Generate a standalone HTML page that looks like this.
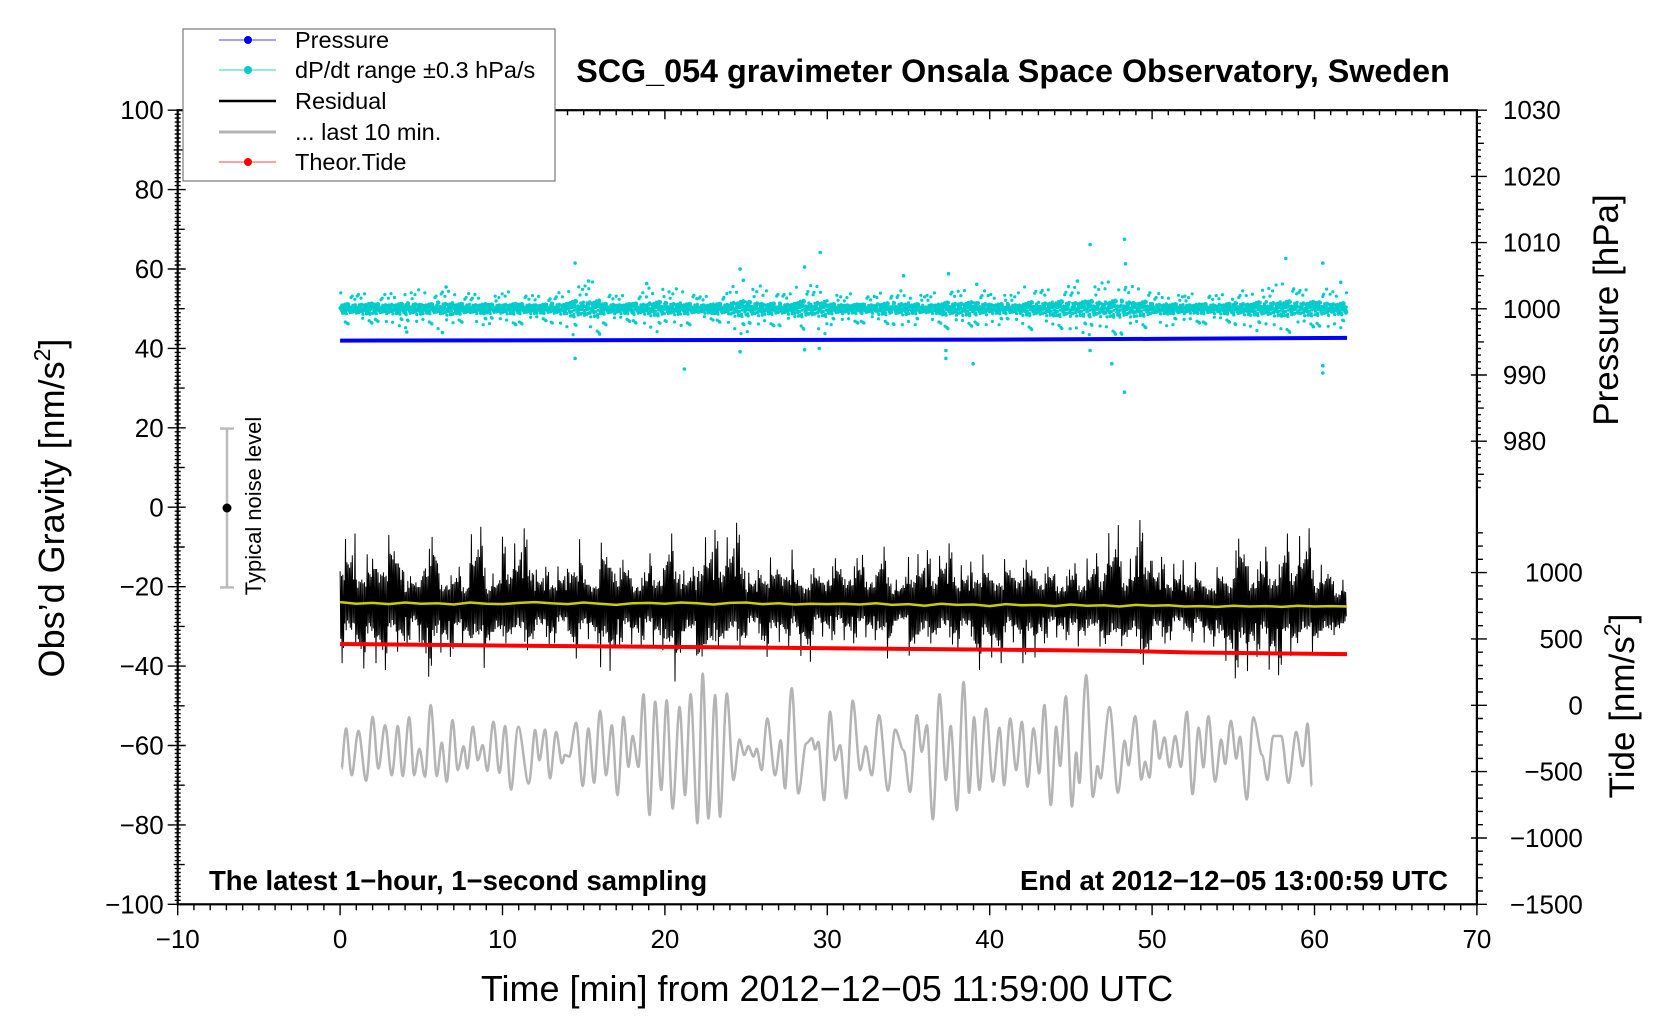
<!DOCTYPE html>
<html><head><meta charset="utf-8"><style>
html,body{margin:0;padding:0;background:#fff;}
svg{display:block;font-family:"Liberation Sans",Arial,sans-serif;}
</style></head><body>
<svg id="chart" width="1676" height="1020" viewBox="0 0 1676 1020" xmlns="http://www.w3.org/2000/svg">
<rect x="0" y="0" width="1676" height="1020" fill="#fff"/>
<g id="plot"></g>
<g id="axes"></g>
<text x="1013" y="82" text-anchor="middle" font-size="32.3" font-weight="bold">SCG_054 gravimeter Onsala Space Observatory, Sweden</text>
<text x="827" y="1001" text-anchor="middle" font-size="36">Time [min] from 2012−12−05 11:59:00 UTC</text>
<text transform="translate(64,508) rotate(-90)" text-anchor="middle" font-size="36">Obs’d Gravity [nm/s<tspan font-size="23" dy="-14">2</tspan><tspan dy="14">]</tspan></text>
<text transform="translate(1618,310) rotate(-90)" text-anchor="middle" font-size="35">Pressure [hPa]</text>
<text transform="translate(1634,706) rotate(-90)" text-anchor="middle" font-size="35">Tide [nm/s<tspan font-size="23" dy="-14">2</tspan><tspan dy="14">]</tspan></text>
<text x="209" y="890" font-size="27.5" font-weight="bold">The latest 1−hour, 1−second sampling</text>
<text x="1448" y="890" text-anchor="end" font-size="27.5" font-weight="bold">End at 2012−12−05 13:00:59 UTC</text>
<g>
<line x1="227" y1="428.6" x2="227" y2="587.4" stroke="#bbb" stroke-width="2.5"/>
<line x1="220" y1="428.6" x2="234" y2="428.6" stroke="#bbb" stroke-width="2.5"/>
<line x1="220" y1="587.4" x2="234" y2="587.4" stroke="#bbb" stroke-width="2.5"/>
<circle cx="227" cy="508" r="4.5" fill="#000"/>
<text transform="translate(261,506) rotate(-90)" text-anchor="middle" font-size="22">Typical noise level</text>
</g>
<g id="legend">
<rect x="183" y="29" width="372" height="152" fill="#fff" stroke="#777" stroke-width="1.2"/>
<g><line x1="219" y1="40" x2="276" y2="40" stroke="#6a6aff" stroke-width="1.2"/><circle cx="248" cy="40" r="4" fill="#0000ff"/><text x="295" y="48" font-size="23.5">Pressure</text></g>
<g><line x1="219" y1="70" x2="276" y2="70" stroke="#5ed8d8" stroke-width="1.2"/><circle cx="248" cy="70" r="4" fill="#00cccc"/><text x="295" y="78" font-size="23.5">dP/dt range ±0.3 hPa/s</text></g>
<g><line x1="219" y1="101" x2="276" y2="101" stroke="#000" stroke-width="2.5"/><text x="295" y="109" font-size="23.5">Residual</text></g>
<g><line x1="219" y1="132" x2="276" y2="132" stroke="#b4b4b4" stroke-width="3"/><text x="295" y="140" font-size="23.5">... last 10 min.</text></g>
<g><line x1="219" y1="162" x2="276" y2="162" stroke="#ff6a6a" stroke-width="1.2"/><circle cx="248" cy="162" r="4" fill="#ff0000"/><text x="295" y="170" font-size="23.5">Theor.Tide</text></g>
</g>
</svg>
<script>
// ---------------- data ----------------
const xTicks = [-10,0,10,20,30,40,50,60,70];
const gTicks = [-100,-80,-60,-40,-20,0,20,40,60,80,100];
const pTicks = [980,990,1000,1010,1020,1030];
const tideTicks = [-1500,-1000,-500,0,500,1000];

// gray "last 10 min" trace: extremes (time min, gravity nm/s2)
const grayTimes = [0.10,0.37,0.72,1.13,1.6,2.0,2.36,2.77,3.18,3.55,3.86,4.25,4.56,4.88,5.23,5.58,5.95,6.26,6.57,6.92,7.25,7.6,7.84,8.17,8.48,8.78,9.07,9.44,9.81,10.16,10.53,10.98,11.6,12.0,12.27,12.62,12.93,13.3,13.65,13.85,14.12,14.53,14.94,15.29,15.64,16.01,16.38,16.73,17.08,17.45,17.75,18.02,18.37,18.68,19.05,19.4,19.77,20.11,20.48,20.9,21.24,21.59,22.0,22.33,22.68,23.09,23.4,23.81,24.22,24.59,24.88,25.14,25.45,25.66,25.96,26.31,26.78,27.13,27.4,27.81,28.22,28.69,29.04,29.25,29.45,29.8,30.17,
30.48,30.79,31.16,31.57,32.02,32.37,32.74,33.19,33.73,34.18,34.69,35.1,35.51,35.82,36.13,36.5,36.91,37.3,37.6,37.98,38.39,38.73,39.04,39.37,39.78,40.19,40.6,40.89,41.26,41.63,41.98,42.33,42.7,43.05,43.37,43.76,44.09,44.34,44.69,45.06,45.32,45.53,45.94,46.35,46.64,46.84,47.38,47.89,48.3,48.55,48.96,49.33,49.57,49.84,50.15,50.45,50.76,51.07,51.42,51.77,52.14,52.49,52.86,53.16,53.47,53.88,54.25,54.5,54.85,55.18,55.42,55.83,56.24,56.76,57.1,57.47,57.95,58.4,58.87,59.26,59.57,59.83];
const grayValues = [-65.8,-55.7,-67.5,-56.3,-68.9,-52.8,-65.8,-54.9,-67.5,-55.1,-67.7,-52.9,-67.5,-60.8,-67.9,-49.8,-67.7,-59.3,-69.1,-53.6,-66.2,-60.2,-65.8,-55.3,-63.7,-59.9,-66.4,-54.0,-66.9,-55.1,-71.1,-55.3,-69.6,-56.1,-63.7,-56.0,-68.3,-56.6,-64.5,-62.4,-62.8,-54.3,-70.2,-55.7,-69.4,-51.3,-67.5,-54.9,-72.5,-52.8,-65.4,-57.6,-65.4,-47.1,-77.5,-49.0,-71.2,-48.6,-75.9,-50.3,-72.5,-47.1,-79.6,-41.9,-78.4,-47.3,-78.0,-46.9,-68.7,-58.5,-62.4,-60.2,-62.8,-60.8,-66.2,-53.2,-67.5,-58.7,-70.8,-45.6,-72.1,-59.5,-58.2,-61.0,-59.1,-73.8,-51.5,
-63.7,-59.9,-73.3,-48.7,-66.2,-60.2,-67.5,-52.4,-71.4,-56.0,-61.2,-71.7,-52.4,-61.6,-54.9,-78.6,-47.1,-68.7,-55.1,-76.3,-44.0,-71.9,-52.9,-71.2,-50.7,-69.1,-55.5,-70.0,-53.2,-66.2,-54.0,-70.4,-55.7,-67.0,-49.8,-75.0,-55.3,-65.2,-47.6,-75.4,-61.8,-69.4,-42.3,-72.9,-65.2,-68.3,-50.3,-71.9,-58.8,-65.0,-52.6,-68.6,-64.1,-68.1,-53.8,-63.3,-58.0,-65.5,-57.6,-65.4,-51.5,-72.3,-55.5,-65.5,-52.6,-69.1,-58.5,-64.7,-53.8,-63.3,-57.8,-73.6,-52.9,-62.4,-68.7,-57.6,-57.6,-69.4,-56.6,-65.2,-54.5,-70.2];

// residual per-minute envelope (gravity nm/s2), minutes 0..61
const residualHigh = [-6.6,-10.8,-7.0,-3.9,-16.2,-4.5,-14.1,-15.0,-4.9,-15.8,-7.4,-5.3,-15.0,-14.1,-6.6,-15.0,-6.2,-11.2,-15.0,-11.6,-6.6,-15.0,-5.7,-5.7,-3.9,-15.8,-11.6,-9.5,-15.0,-13.7,-10.8,
-10.8,-12.0,-9.9,-17.5,-10.4,-10.8,-9.1,-13.7,-10.8,-12.0,-11.2,-11.2,-13.3,-14.1,-14.1,-11.6,-4.5,-11.6,-3.2,-12.5,-13.3,-12.9,-15.0,-13.3,-4.9,-11.6,-9.9,-6.6,-5.3,-13.3,-17.5];
const residualLow = [-39.3,-40.6,-41.0,-37.7,-35.1,-42.7,-37.7,-36.0,-41.9,-38.5,-36.0,-38.1,-36.4,-34.3,-38.1,-34.3,-43.1,-35.6,-35.1,-36.0,-45.6,-38.5,-44.8,-37.7,-37.7,-35.1,-37.7,-35.1,-38.9,-33.5,-33.5,
-34.3,-33.5,-39.3,-32.6,-39.7,-36.0,-36.4,-36.0,-41.0,-39.3,-35.1,-39.3,-34.3,-33.5,-36.0,-36.0,-39.7,-36.8,-42.3,-36.0,-33.5,-33.9,-35.1,-40.2,-43.1,-37.7,-42.3,-38.5,-38.1,-37.2,-33.5];
// smoothed residual (yellow) per minute 0..62
const residualSmooth = [-23.9,-24.3,-24.1,-24.4,-24.0,-24.3,-24.2,-24.5,-24.0,-24.3,-24.4,-24.1,-23.9,-24.2,-24.4,-24.0,-24.3,-24.6,-24.2,-24.1,-24.3,-24.0,-24.2,-24.5,-24.1,-24.0,-24.4,-24.2,-24.5,-24.3,-24.4,
-24.3,-24.5,-24.2,-24.6,-24.4,-24.8,-24.3,-24.6,-24.5,-24.9,-24.4,-24.7,-24.6,-24.9,-24.5,-24.8,-24.7,-25.0,-24.6,-24.8,-24.7,-25.0,-24.9,-25.1,-24.8,-25.0,-24.9,-25.1,-24.8,-25.0,-24.9,-25.0];

// theoretical tide (nm/s2)
const tideTimes = [0,8,16,24,32,40,48,52.5,57,62];
const tideValues = [462,452,444,436,428,420,410,398,392,386];

// pressure (hPa)
const pressTimes = [0,15,30,40,50,57,62];
const pressValues = [995.2,995.25,995.3,995.35,995.45,995.55,995.6];

// dP/dt scatter: per-minute center (hPa) and spread (hPa), minutes 0..61
const dpCenter = 1000.0;
const dpSpread = [1.6,1.8,1.6,1.7,1.9,1.6,2.1,1.7,1.6,1.5,1.7,1.6,1.5,1.8,2.6,2.7,1.7,1.6,1.8,2.3,2.0,1.7,1.5,1.7,2.5,2.3,1.8,1.8,2.6,2.5,1.6,
1.5,1.5,1.9,2.0,1.6,1.6,2.1,2.2,2.0,1.6,1.6,2.2,2.3,2.5,2.4,2.6,2.7,2.7,2.4,1.7,1.6,1.5,1.6,1.7,2.0,2.2,2.4,2.5,2.3,2.2,1.9];
const dpOutTimes = [14.47,14.47,15.3,21.2,24.63,24.63,28.6,29.56,28.6,29.5,6.53,18.88,4.1,6.3,24.83,46.18,48.3,48.36,48.3,58.23,60.51,60.51,60.51,34.69,37.46,37.3,37.3,38.98,46.18,47.52,61.62,39.2,45.4];
const dpOutValues = [1006.9,992.5,1004.2,990.9,1006.0,993.5,1006.3,1008.5,993.8,994.0,1003.3,1003.8,996.5,996.4,1004.3,1009.7,1010.5,1006.8,987.4,1007.6,1006.9,991.4,990.3,1005.0,1005.3,993.7,992.5,991.7,993.7,991.7,1004.0,1003.7,1004.2];

// ---------------- scales ----------------
const X0 = 177.7, X1 = 1476.9, Y0 = 110.2, Y1 = 904.3;
function xs(t){ return X0 + (t + 10) * (X1 - X0) / 80; }
function gy(g){ return Y0 + (100 - g) * (Y1 - Y0) / 200; }
function py(p){ return Y0 + (1030 - p) * 6.62; }
function ty(v){ return 572.6 + (1000 - v) * (Y1 - 572.6) / 2500; }

const NS = 'http://www.w3.org/2000/svg';
function mk(tag, attrs, parent){
  const e = document.createElementNS(NS, tag);
  for (const k in attrs) e.setAttribute(k, attrs[k]);
  parent.appendChild(e);
  return e;
}
const plot = document.getElementById('plot');
const axes = document.getElementById('axes');

// constant visual jitter patterns (styling only)
const jit = [0.45,-0.5,0.6,-0.35,0.3,-0.6,0.5,-0.3,1.0,-0.55,0.38,-0.45,0.55,-0.7,0.35,-1.0,0.48,-0.4,0.75,-0.5,0.4,-0.3,0.65,-0.48,0.42,-0.75,0.55,-0.38,0.85,-0.58,0.32,-0.42,0.5,-0.85,0.45,-0.35,0.6,-0.52,0.36,-0.68,0.92,-0.4,0.5,-0.62,0.34,-0.46,0.7,-0.9,0.44,-0.33,0.58];
const djit = [0.1,-0.3,0.45,-0.6,0.2,0.7,-0.15,-0.45,0.35,0.9,-0.8,0.05,0.55,-0.25,-1.0,0.3,0.65,-0.55,0.15,-0.05,0.4,-0.7,1.0,-0.35,0.25,0.5,-0.9,0.0,-0.2,0.8,-0.4,0.6,-0.1,0.3,-0.65,0.12,-0.5,0.75,-0.3,0.2,-0.08,0.22,-0.38,0.48,-0.18,0.08,0.33,-0.72,0.58,-0.02,0.85,-0.48,0.18,-0.28,0.02,0.38,-0.62,0.68,-0.12,-0.95,0.26,-0.42,0.52,0.04,-0.33];

// dP/dt dots
const dpG = mk('g', {fill:'#00cccc'}, plot);


for (let m = 0; m < dpSpread.length; m++){
  for (let k = 0; k < 60; k++){
    const t = m + (k + ((k * 13 + m * 5) % 7) / 7) / 60;
    if (t > 62) break;
    const f = djit[(k * 11 + m * 17) % djit.length];
    const amp = Math.abs(f) > 0.75 ? dpSpread[m] * (1 + ((k + m) % 3) * 0.25) : dpSpread[m] * 0.65;
    const c = mk('circle', {cx: xs(t).toFixed(1), cy: py(dpCenter + f * amp).toFixed(1), r: 1.6}, dpG);
    
    
  }
}
for (let i = 0; i < dpOutTimes.length; i++){
  const c = mk('circle', {cx: xs(dpOutTimes[i]).toFixed(1), cy: py(dpOutValues[i]).toFixed(1), r: 1.8}, dpG);
  
  
}

// pressure line
let d = pressTimes.map((t,i)=>(i?'L':'M')+xs(t).toFixed(1)+','+py(pressValues[i]).toFixed(1)).join('');
const pl = mk('path', {d:d, stroke:'#0000ff', 'stroke-width':4, fill:'none'}, plot);



// residual
let rd = '';
for (let m = 0; m < residualHigh.length; m++){
  const c = residualSmooth[m];
  for (let k = 0; k < 24; k++){
    const t = m + k / 24;
    if (t > 62.05) break;
    const idx = (k * 5 + m * 11) % jit.length;
    let f = jit[idx];
    if (k % 2 === 0) f = Math.abs(f); else f = -Math.abs(f);
    const v = f > 0 ? c + f * (residualHigh[m] - c) : c - f * (residualLow[m] - c);
    rd += (rd ? 'L' : 'M') + xs(t).toFixed(1) + ',' + gy(v).toFixed(1);
  }
}
const rl = mk('path', {d:rd, stroke:'#000', 'stroke-width':1.0, fill:'none'}, plot);



// smoothed residual
d = residualSmooth.map((v,i)=>(i?'L':'M')+xs(Math.min(i,62)).toFixed(1)+','+gy(v).toFixed(1)).join('');
const yl = mk('path', {d:d, stroke:'#cccc00', 'stroke-width':2.5, fill:'none'}, plot);



// tide
d = tideTimes.map((t,i)=>(i?'L':'M')+xs(t).toFixed(1)+','+ty(tideValues[i]).toFixed(1)).join('');
const tl = mk('path', {d:d, stroke:'#ff0000', 'stroke-width':4, fill:'none'}, plot);



// gray last 10 min (smooth curve through extremes)
const gp = grayTimes.map((t,i)=>[xs(t), gy(grayValues[i])]);
d = 'M' + gp[0][0].toFixed(1) + ',' + gp[0][1].toFixed(1);
for (let i = 0; i < gp.length - 1; i++){
  const p0 = gp[Math.max(0,i-1)], p1 = gp[i], p2 = gp[i+1], p3 = gp[Math.min(gp.length-1,i+2)];
  const c1x = p1[0] + (p2[0]-p0[0])/6, c1y = p1[1];
  const c2x = p2[0] - (p3[0]-p1[0])/6, c2y = p2[1];
  d += 'C' + c1x.toFixed(1) + ',' + c1y.toFixed(1) + ' ' + c2x.toFixed(1) + ',' + c2y.toFixed(1) + ' ' + p2[0].toFixed(1) + ',' + p2[1].toFixed(1);
}
const gl = mk('path', {d:d, stroke:'#b4b4b4', 'stroke-width':2.5, fill:'none', 'stroke-linejoin':'round'}, plot);



// ---------------- axes ----------------
const frame = mk('rect', {x:X0, y:Y0, width:X1-X0, height:Y1-Y0, fill:'none', stroke:'#000', 'stroke-width':2.2}, axes);


let tk = '';
for (let t = -10; t <= 70; t++){
  const x = xs(t).toFixed(1);
  const major = t % 10 === 0;
  tk += `M${x},${Y1}L${x},${Y1 + (major ? 11 : 6)}`;
  tk += `M${x},${Y0}L${x},${Y0 + (major ? 9 : 5)}`;
}
for (let g = -100; g <= 100; g++){
  const y = gy(g).toFixed(1);
  if (g % 20 === 0) tk += `M${X0 - 10},${y}L${X0 + 8},${y}`;
  else if (g % 10 === 0) tk += `M${X0 - 4},${y}L${X0 + 7},${y}`;
  else tk += `M${X0 - 3},${y}L${X0 + 3},${y}`;
}
for (let p = 1030; p >= 973; p--){
  const y = py(p).toFixed(1);
  if (p % 10 === 0) tk += `M${X1 - 6},${y}L${X1 + 10},${y}`;
  else tk += `M${X1},${y}L${X1 + (p % 5 === 0 ? 7 : 4)},${y}`;
}
for (let v = 1300; v >= -1500; v -= 100){
  const y = ty(v).toFixed(1);
  if (v % 500 === 0) tk += `M${X1 - 6},${y}L${X1 + 10},${y}`;
  else tk += `M${X1},${y}L${X1 + 6},${y}`;
}
const tp = mk('path', {d:tk, stroke:'#000', 'stroke-width':1.4, fill:'none'}, axes);



function lab(x, y, s, anchor, name){
  const e = mk('text', {x:x, y:y, 'text-anchor':anchor, 'font-size':26}, axes);
  e.textContent = s;
  
  
}
const fmt = v => (v < 0 ? '−' + Math.abs(v) : String(v));
xTicks.forEach(t => lab(xs(t), 948, fmt(t), 'middle', 'x-tick-label'));
gTicks.forEach(g => lab(X0 - 14, gy(g) + 9, fmt(g), 'end', 'y-tick-label-left'));
pTicks.forEach(p => lab(X1 + 26, py(p) + 9, fmt(p), 'start', 'y-tick-label-pressure'));
tideTicks.forEach(v => lab(X1 + 106, ty(v) + 9, fmt(v), 'end', 'y-tick-label-tide'));
</script>
</body></html>
